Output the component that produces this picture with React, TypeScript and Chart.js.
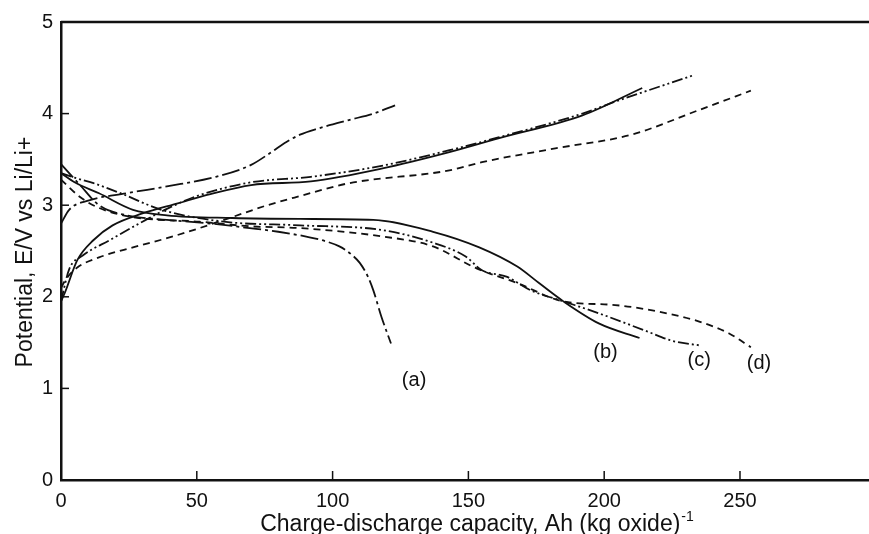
import { useEffect, useRef } from 'react';
import { Chart, registerables } from 'chart.js';

Chart.register(...registerables);

// ---- Data (capacity in Ah (kg oxide)^-1, potential in V vs Li/Li+) ----
const aDischargeCapacity = [0, 3, 7, 14, 24, 39, 55, 69.5, 80, 91.5, 97, 102.5, 107, 110, 113, 115, 118, 121.5];
const aDischargePotential = [3.45, 3.35, 3.22, 3.0, 2.89, 2.84, 2.8, 2.75, 2.71, 2.65, 2.61, 2.55, 2.46, 2.37, 2.22, 2.07, 1.78, 1.49];
const aChargeCapacity = [0, 3, 10, 24, 40, 57, 70, 77, 83, 88, 95, 106, 115, 123];
const aChargePotential = [2.8, 2.95, 3.05, 3.13, 3.21, 3.31, 3.44, 3.57, 3.69, 3.77, 3.84, 3.93, 4.0, 4.09];

const bDischargeCapacity = [0, 5, 14, 26.5, 39, 63, 88, 115, 137, 154, 168, 176, 185, 198, 213];
const bDischargePotential = [3.35, 3.25, 3.13, 2.95, 2.89, 2.86, 2.85, 2.84, 2.71, 2.54, 2.33, 2.15, 1.95, 1.71, 1.55];
const bChargeCapacity = [0, 1.5, 6, 12, 19, 30, 43, 55, 70, 92, 118, 143, 161, 192, 214];
const bChargePotential = [1.95, 2.05, 2.4, 2.62, 2.78, 2.91, 3.02, 3.12, 3.22, 3.26, 3.4, 3.58, 3.73, 3.98, 4.28];

const cDischargeCapacity = [0, 5, 12, 22, 37, 60, 88, 118, 137, 149, 155, 164, 173, 185, 198, 216, 225, 235];
const cDischargePotential = [3.35, 3.3, 3.24, 3.13, 2.95, 2.82, 2.78, 2.73, 2.59, 2.44, 2.29, 2.22, 2.07, 1.95, 1.82, 1.62, 1.52, 1.47];
const cChargeCapacity = [0, 3, 8, 18, 30, 39, 50, 70, 92, 118, 143, 161, 192, 204, 233];
const cChargePotential = [1.95, 2.3, 2.45, 2.62, 2.82, 2.96, 3.1, 3.25, 3.31, 3.43, 3.6, 3.74, 4.0, 4.13, 4.42];

const dDischargeCapacity = [0, 7, 14, 26.5, 51, 69.5, 88, 118, 137, 153, 168, 185, 204, 223, 235, 246, 254];
const dDischargePotential = [3.28, 3.09, 2.97, 2.87, 2.82, 2.77, 2.75, 2.66, 2.55, 2.31, 2.15, 1.95, 1.91, 1.82, 1.73, 1.6, 1.45];
const dChargeCapacity = [0, 2, 6, 14, 26.5, 39, 51, 63, 76, 88, 106, 143, 155, 182, 210, 235, 254];
const dChargePotential = [2.1, 2.2, 2.32, 2.43, 2.54, 2.64, 2.75, 2.87, 3.0, 3.1, 3.24, 3.38, 3.47, 3.62, 3.77, 4.04, 4.25];

const curveLabels = ['(a)', '(b)', '(c)', '(d)'];
const labelCapacity = [130, 200.5, 235, 257];
const labelPotential = [1.09, 1.39, 1.31, 1.27];

const yTickValues = [0, 1, 2, 3, 4, 5];
const xTickValues = [0, 50, 100, 150, 200, 250];
const innerYTicks = [1, 2, 3, 4];
const innerXTicks = [50, 100, 150, 200, 250];

const xTitle = 'Charge-discharge capacity, Ah (kg oxide)';
const xTitleSup = '-1';
const yTitle = 'Potential, E/V vs Li/Li+';

const FONT = '"Liberation Sans", Arial, Helvetica, sans-serif';
const INK = '#111';

const zip = (xs: number[], ys: number[]) => xs.map((x, i) => ({ x, y: ys[i] }));

const STYLE_A = [18, 4, 3, 4];
const STYLE_B: number[] = [];
const STYLE_C = [11, 3, 2, 3, 2, 3];
const STYLE_D = [7, 5];

const series = [
  { d: zip(aDischargeCapacity, aDischargePotential), dash: STYLE_A },
  { d: zip(aChargeCapacity, aChargePotential), dash: STYLE_A },
  { d: zip(bDischargeCapacity, bDischargePotential), dash: STYLE_B },
  { d: zip(bChargeCapacity, bChargePotential), dash: STYLE_B },
  { d: zip(cDischargeCapacity, cDischargePotential), dash: STYLE_C },
  { d: zip(cChargeCapacity, cChargePotential), dash: STYLE_C },
  { d: zip(dDischargeCapacity, dDischargePotential), dash: STYLE_D },
  { d: zip(dChargeCapacity, dChargePotential), dash: STYLE_D },
];

const decor = {
  id: 'decor',
  afterDraw(chart: any) {
    const { ctx, chartArea: ca, scales } = chart;
    const x = scales.x;
    const y = scales.y;
    ctx.save();
    ctx.strokeStyle = INK;
    ctx.fillStyle = INK;
    // top frame line at y = 5
    ctx.lineWidth = 2.5;
    ctx.beginPath();
    ctx.moveTo(ca.left, y.getPixelForValue(5));
    ctx.lineTo(ca.right, y.getPixelForValue(5));
    ctx.stroke();
    // inward tick marks
    ctx.lineWidth = 1.5;
    innerYTicks.forEach((v) => {
      const py = y.getPixelForValue(v);
      ctx.beginPath();
      ctx.moveTo(ca.left, py);
      ctx.lineTo(ca.left + 8, py);
      ctx.stroke();
    });
    innerXTicks.forEach((v) => {
      const px = x.getPixelForValue(v);
      ctx.beginPath();
      ctx.moveTo(px, ca.bottom);
      ctx.lineTo(px, ca.bottom - 9);
      ctx.stroke();
    });
    // curve labels
    ctx.font = `20px ${FONT}`;
    ctx.textAlign = 'center';
    ctx.textBaseline = 'middle';
    curveLabels.forEach((t, i) => {
      ctx.fillText(t, x.getPixelForValue(labelCapacity[i]), y.getPixelForValue(labelPotential[i]));
    });
    // x title with superscript
    ctx.textBaseline = 'alphabetic';
    ctx.textAlign = 'left';
    ctx.font = `23px ${FONT}`;
    const w1 = ctx.measureText(xTitle).width;
    ctx.font = `14px ${FONT}`;
    const w2 = ctx.measureText(xTitleSup).width;
    const cx = (ca.left + ca.right) / 2 + 12;
    const sx = cx - (w1 + w2 + 1) / 2;
    ctx.font = `23px ${FONT}`;
    ctx.fillText(xTitle, sx, 531);
    ctx.font = `14px ${FONT}`;
    ctx.fillText(xTitleSup, sx + w1 + 1, 521);
    // y title rotated
    ctx.font = `23px ${FONT}`;
    ctx.translate(32, (ca.top + ca.bottom) / 2 + 1);
    ctx.rotate(-Math.PI / 2);
    ctx.textAlign = 'center';
    ctx.fillText(yTitle, 0, 0);
    ctx.restore();
  },
};

export default function App() {
  const ref = useRef<HTMLCanvasElement | null>(null);
  useEffect(() => {
    if (!ref.current) return;
    const chart = new Chart(ref.current, {
      type: 'line',
      data: {
        datasets: series.map((s) => ({
          data: s.d,
          borderColor: INK,
          borderWidth: 1.8,
          borderDash: s.dash,
          pointRadius: 0,
          fill: false,
          cubicInterpolationMode: 'monotone' as const,
        })),
      },
      options: {
        responsive: false,
        animation: false,
        events: [],
        layout: { padding: { left: 0, right: 0, top: 22, bottom: 0 } },
        plugins: { legend: { display: false }, tooltip: { enabled: false }, title: { display: false } },
        scales: {
          x: {
            type: 'linear',
            min: 0,
            max: 297.5,
            afterFit: (s: any) => { s.height = 54; },
            afterBuildTicks: (s: any) => { s.ticks = xTickValues.map((v) => ({ value: v })); },
            grid: { display: false, drawTicks: false },
            border: { display: true, color: INK, width: 2.5 },
            ticks: { color: INK, font: { family: FONT, size: 20 }, padding: 9, maxRotation: 0, autoSkip: false },
          },
          y: {
            type: 'linear',
            min: 0,
            max: 5,
            afterFit: (s: any) => { s.width = 61; },
            afterBuildTicks: (s: any) => { s.ticks = yTickValues.map((v) => ({ value: v })); },
            grid: { display: false, drawTicks: false },
            border: { display: true, color: INK, width: 2.5 },
            ticks: { color: INK, font: { family: FONT, size: 20 }, padding: 8 },
          },
        },
      },
      plugins: [decor],
    });
    return () => chart.destroy();
  }, []);
  return (
    <div style={{ position: 'fixed', left: 0, top: 0, width: 869, height: 534, background: '#fff' }}>
      <canvas ref={ref} width={869} height={534} style={{ display: 'block' }} />
    </div>
  );
}
